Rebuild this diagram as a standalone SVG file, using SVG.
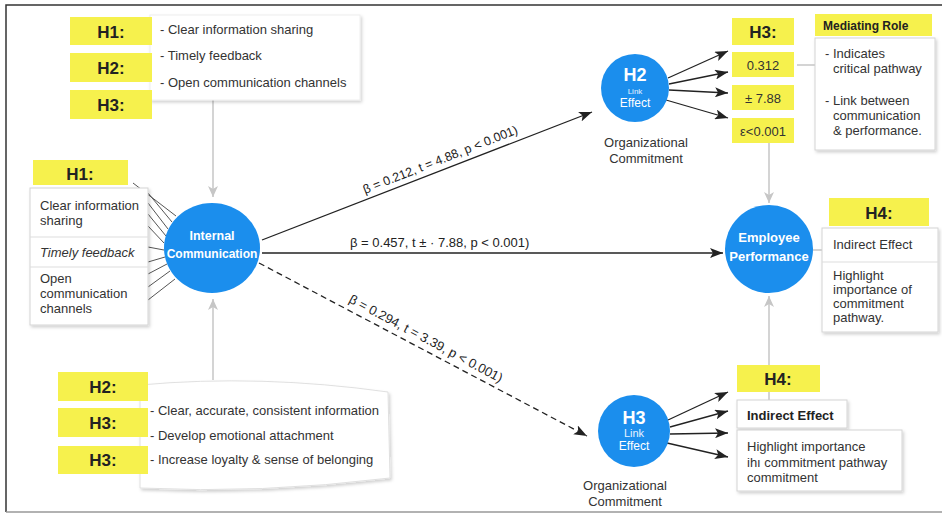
<svg xmlns="http://www.w3.org/2000/svg" width="942" height="516" viewBox="0 0 942 516">
<defs>
<style>
.y{fill:#f6f14d}
.hl{font-family:"Liberation Sans",Arial,sans-serif;font-weight:bold;font-size:17px;fill:#222;text-anchor:middle}
.t{font-family:"Liberation Sans",Arial,sans-serif;font-size:13px;fill:#333}
.tb{font-family:"Liberation Sans",Arial,sans-serif;font-size:13px;font-weight:bold;fill:#222}
.lbl{font-family:"Liberation Sans",Arial,sans-serif;font-size:12.5px;fill:#222}
.ct{font-family:"Liberation Sans",Arial,sans-serif;font-weight:bold;font-size:12.5px;fill:#fff;text-anchor:middle}
.cs{font-family:"Liberation Sans",Arial,sans-serif;font-size:11px;fill:#e8f3ff;text-anchor:middle}
.oc{font-family:"Liberation Sans",Arial,sans-serif;font-size:13px;fill:#333;text-anchor:middle}
.circ{fill:#1b8eed}
.box{fill:#fff;stroke:#d4d4d4;stroke-width:1}
.g{stroke:#c6c6c6;stroke-width:1.5;fill:none}
.k{stroke:#222;stroke-width:1.3;fill:none}
.f{stroke:#555;stroke-width:1;fill:none}
</style>
<filter id="sh" x="-10%" y="-10%" width="125%" height="130%">
<feDropShadow dx="1.5" dy="2" stdDeviation="1.5" flood-color="#000" flood-opacity="0.18"/>
</filter>
<marker id="ak" markerUnits="userSpaceOnUse" markerWidth="14" markerHeight="10" refX="13" refY="5" orient="auto">
<path d="M0,0 L13,5 L0,10 L3,5 z" fill="#222"/>
</marker>
<marker id="ag" markerUnits="userSpaceOnUse" markerWidth="12" markerHeight="10" refX="11" refY="5" orient="auto">
<path d="M0,0 L11,5 L0,10 L3,5 z" fill="#c6c6c6"/>
</marker>
</defs>
<rect width="942" height="516" fill="#fff"/>
<path d="M6,512 V5 H942" fill="none" stroke="#333" stroke-width="1.5"/>
<line x1="6" y1="512" x2="942" y2="512" stroke="#999" stroke-width="1.5"/>

<g id="connectors">
<line class="g" x1="213" y1="100" x2="213" y2="197" marker-end="url(#ag)"/>
<line class="g" x1="213" y1="380" x2="213" y2="299" marker-end="url(#ag)"/>
<line class="g" x1="769" y1="143" x2="769" y2="203" marker-end="url(#ag)"/>
<line class="g" x1="769" y1="400" x2="769" y2="296" marker-end="url(#ag)"/>
<line class="g" x1="797" y1="65" x2="815" y2="65"/>
<line class="g" x1="813" y1="250" x2="822" y2="250"/>
<line class="f" x1="133" y1="183" x2="176" y2="216"/>
<line class="f" x1="148" y1="193" x2="172" y2="222"/>
<line class="f" x1="148" y1="203" x2="168" y2="229"/>
<line class="f" x1="148" y1="214" x2="166" y2="236"/>
<line class="f" x1="148" y1="226" x2="164" y2="243"/>
<line class="f" x1="148" y1="247" x2="164" y2="250"/>
<line class="f" x1="148" y1="262" x2="165" y2="257"/>
<line class="f" x1="148" y1="274" x2="167" y2="264"/>
<line class="f" x1="148" y1="287" x2="170" y2="271"/>
<line class="f" x1="148" y1="300" x2="175" y2="279"/>
<line class="k" x1="262" y1="240" x2="592" y2="112" marker-end="url(#ak)"/>
<line class="k" x1="262" y1="253" x2="723" y2="253" marker-end="url(#ak)"/>
<line class="k" x1="259" y1="263" x2="587" y2="436" stroke-dasharray="6 4" marker-end="url(#ak)"/>
<line class="k" x1="668" y1="78" x2="728" y2="51" marker-end="url(#ak)"/>
<line class="k" x1="669" y1="84" x2="728" y2="72" marker-end="url(#ak)"/>
<line class="k" x1="669" y1="90" x2="728" y2="93" marker-end="url(#ak)"/>
<line class="k" x1="666" y1="100" x2="728" y2="118" marker-end="url(#ak)"/>
<line class="k" x1="668" y1="420" x2="728" y2="392" marker-end="url(#ak)"/>
<line class="k" x1="670" y1="427" x2="728" y2="411" marker-end="url(#ak)"/>
<line class="k" x1="670" y1="434" x2="728" y2="433" marker-end="url(#ak)"/>
<line class="k" x1="667" y1="443" x2="728" y2="457" marker-end="url(#ak)"/>
<text class="lbl" transform="translate(365,194) rotate(-21.6)">β = 0.212, t = 4.88, p &lt; 0.001)</text>
<text class="lbl" x="350" y="247" style="font-size:13px">β = 0.457, t ± · 7.88, p &lt; 0.001)</text>
<text class="lbl" transform="translate(348,302) rotate(28)" style="font-size:13px">β = 0.294, t = 3.39, p &lt; 0.001)</text>
</g>

<g id="top-left-notes">
<rect x="150" y="15" width="210" height="85" fill="#fff" stroke="#eee" filter="url(#sh)"/>
<rect class="y" x="70" y="17" width="82" height="28"/>
<rect class="y" x="70" y="53" width="82" height="29"/>
<rect class="y" x="70" y="90" width="82" height="29"/>
<text class="hl" x="111" y="38">H1:</text>
<text class="hl" x="111" y="74">H2:</text>
<text class="hl" x="111" y="111">H3:</text>
<text class="t" x="160" y="34">- Clear information sharing</text>
<text class="t" x="160" y="60">- Timely feedback</text>
<text class="t" x="160" y="87">- Open communication channels</text>
</g>

<g id="left-notes">
<rect class="y" x="33" y="160" width="95" height="25"/>
<text class="hl" x="80" y="180">H1:</text>
<rect class="box" x="30" y="188" width="118" height="137" filter="url(#sh)"/>
<line x1="30" y1="237" x2="148" y2="237" stroke="#ddd"/>
<line x1="30" y1="267" x2="148" y2="267" stroke="#ddd"/>
<text class="t" x="40" y="210">Clear information</text>
<text class="t" x="40" y="225">sharing</text>
<text class="t" x="40" y="257" font-style="italic">Timely feedback</text>
<text class="t" x="40" y="283">Open</text>
<text class="t" x="40" y="298">communication</text>
<text class="t" x="40" y="313">channels</text>
</g>

<g id="bottom-left-notes">
<path d="M140,385 Q260,374 388,392 L390,478 Q260,494 140,488 Z" fill="#fff" stroke="#e0e0e0" filter="url(#sh)"/>
<rect class="y" x="58" y="372" width="90" height="29"/>
<rect class="y" x="58" y="408" width="90" height="29"/>
<rect class="y" x="58" y="446" width="90" height="28"/>
<text class="hl" x="103" y="393">H2:</text>
<text class="hl" x="103" y="429">H3:</text>
<text class="hl" x="103" y="466">H3:</text>
<text class="t" x="150" y="415">- Clear, accurate, consistent information</text>
<text class="t" x="150" y="440">- Develop emotional attachment</text>
<text class="t" x="150" y="464">- Increase loyalty &amp; sense of belonging</text>
</g>

<g id="internal-communication">
<ellipse class="circ" cx="212" cy="248" rx="48" ry="45"/>
<text class="ct" x="212" y="240">Internal</text>
<text class="ct" x="212" y="258" style="font-size:12px">Communication</text>
</g>

<g id="h2-link-effect">
<circle class="circ" cx="635" cy="88" r="34"/>
<text class="ct" x="635" y="81" style="font-size:18px">H2</text>
<text class="cs" x="635" y="94" style="font-size:8px">Link</text>
<text class="ct" x="635" y="107" style="font-weight:normal;font-size:12px">Effect</text>
<text class="oc" x="646" y="147">Organizational</text>
<text class="oc" x="646" y="163">Commitment</text>
</g>

<g id="h3-values">
<rect class="y" x="732" y="18" width="62" height="27"/>
<text class="hl" x="763" y="38">H3:</text>
<rect class="y" x="732" y="52" width="62" height="25"/>
<text class="t" x="763" y="70" text-anchor="middle">0.312</text>
<rect class="y" x="732" y="85" width="62" height="25"/>
<text class="t" x="763" y="103" text-anchor="middle">± 7.88</text>
<rect class="y" x="732" y="118" width="62" height="25"/>
<text class="t" x="763" y="136" text-anchor="middle">ε&lt;0.001</text>
</g>

<g id="mediating-role">
<rect class="y" x="815" y="14" width="117" height="22"/>
<text class="tb" x="823" y="30" style="font-size:12px">Mediating Role</text>
<rect class="box" x="815" y="38" width="120" height="112" filter="url(#sh)"/>
<text class="t" x="825" y="58">- Indicates</text>
<text class="t" x="833" y="73">critical pathway</text>
<text class="t" x="825" y="105">- Link between</text>
<text class="t" x="833" y="120">communication</text>
<text class="t" x="833" y="135">&amp; performance.</text>
</g>

<g id="employee-performance">
<circle class="circ" cx="769" cy="249" r="44"/>
<text class="ct" x="769" y="242" style="font-size:13px">Employee</text>
<text class="ct" x="769" y="261" style="font-size:13px">Performance</text>
</g>

<g id="h4-right">
<rect class="y" x="829" y="198" width="100" height="28"/>
<text class="hl" x="879" y="219">H4:</text>
<rect class="box" x="822" y="228" width="116" height="104" filter="url(#sh)"/>
<line x1="822" y1="262" x2="938" y2="262" stroke="#ddd"/>
<text class="t" x="833" y="249">Indirect Effect</text>
<text class="t" x="833" y="280">Highlight</text>
<text class="t" x="833" y="294">importance of</text>
<text class="t" x="833" y="308">commitment</text>
<text class="t" x="833" y="322">pathway.</text>
</g>

<g id="h3-link-effect">
<circle class="circ" cx="634" cy="431" r="36"/>
<text class="ct" x="634" y="424" style="font-size:18px">H3</text>
<text class="cs" x="634" y="437">Link</text>
<text class="ct" x="634" y="450" style="font-weight:normal;font-size:12px">Effect</text>
<text class="oc" x="625" y="490">Organizational</text>
<text class="oc" x="625" y="506">Commitment</text>
</g>

<g id="h4-bottom">
<rect class="y" x="737" y="365" width="83" height="27"/>
<text class="hl" x="778" y="385">H4:</text>
<rect class="box" x="737" y="400" width="110" height="28" filter="url(#sh)"/>
<text class="tb" x="747" y="420">Indirect Effect</text>
<rect class="box" x="737" y="430" width="165" height="61" filter="url(#sh)"/>
<text class="t" x="747" y="451">Highlight importance</text>
<text class="t" x="747" y="467">ihı commitment pathway</text>
<text class="t" x="747" y="482">commitment</text>
</g>
</svg>
